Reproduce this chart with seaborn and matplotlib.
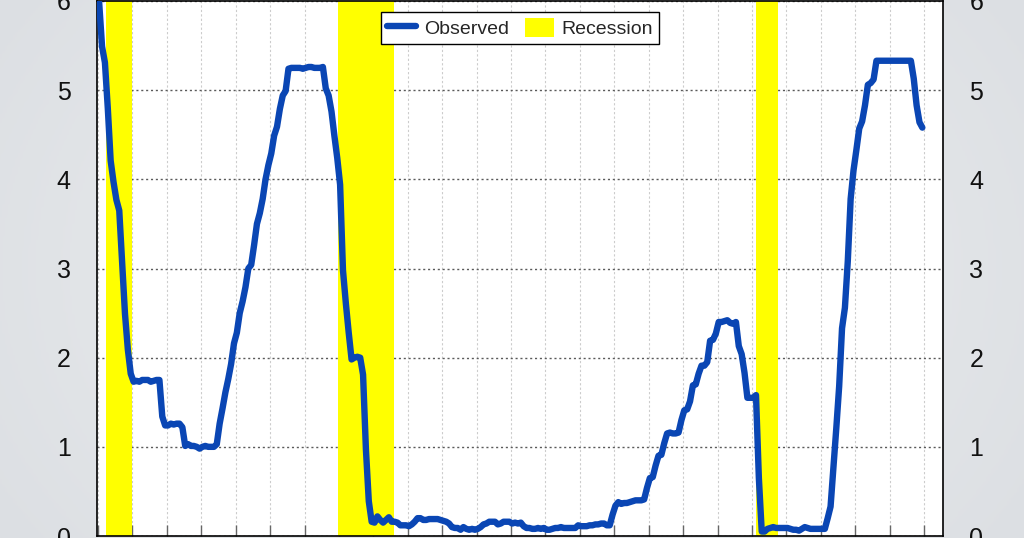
import numpy as np
import pandas as pd
import seaborn as sns
import matplotlib.pyplot as plt
from matplotlib.colors import LinearSegmentedColormap
from matplotlib.lines import Line2D
from matplotlib.patches import Patch

# monthly effective fed funds rate, Jan 2001 .. Dec 2024
start_year = 2001
fed_funds = [
    5.98, 5.49, 5.31, 4.80, 4.21, 3.97, 3.77, 3.65, 3.07, 2.49, 2.09, 1.82,
    1.73, 1.74, 1.73, 1.75, 1.75, 1.75, 1.73, 1.74, 1.75, 1.75, 1.34, 1.24,
    1.24, 1.26, 1.25, 1.26, 1.26, 1.22, 1.01, 1.03, 1.01, 1.01, 1.00, 0.98,
    1.00, 1.01, 1.00, 1.00, 1.00, 1.03, 1.26, 1.43, 1.61, 1.76, 1.93, 2.16,
    2.28, 2.50, 2.63, 2.79, 3.00, 3.04, 3.26, 3.50, 3.62, 3.78, 4.00, 4.16,
    4.29, 4.49, 4.59, 4.79, 4.94, 4.99, 5.24, 5.25, 5.25, 5.25, 5.25, 5.24,
    5.25, 5.26, 5.26, 5.25, 5.25, 5.25, 5.26, 5.02, 4.94, 4.76, 4.49, 4.24,
    3.94, 2.98, 2.61, 2.28, 1.98, 2.00, 2.01, 2.00, 1.81, 0.97, 0.39, 0.16,
    0.15, 0.22, 0.18, 0.15, 0.18, 0.21, 0.16, 0.16, 0.15, 0.12, 0.12, 0.12,
    0.11, 0.13, 0.16, 0.20, 0.20, 0.18, 0.18, 0.19, 0.19, 0.19, 0.19, 0.18,
    0.17, 0.16, 0.14, 0.10, 0.09, 0.09, 0.07, 0.10, 0.08, 0.07, 0.08, 0.07,
    0.08, 0.10, 0.13, 0.14, 0.16, 0.16, 0.16, 0.13, 0.14, 0.16, 0.16, 0.16,
    0.14, 0.15, 0.14, 0.15, 0.11, 0.09, 0.09, 0.08, 0.08, 0.09, 0.08, 0.09,
    0.07, 0.07, 0.08, 0.09, 0.09, 0.10, 0.09, 0.09, 0.09, 0.09, 0.09, 0.12,
    0.11, 0.11, 0.11, 0.12, 0.12, 0.13, 0.13, 0.14, 0.14, 0.12, 0.12, 0.24,
    0.34, 0.38, 0.36, 0.37, 0.37, 0.38, 0.39, 0.40, 0.40, 0.40, 0.41, 0.54,
    0.65, 0.66, 0.79, 0.90, 0.91, 1.04, 1.15, 1.16, 1.15, 1.15, 1.16, 1.30,
    1.41, 1.42, 1.51, 1.69, 1.70, 1.82, 1.91, 1.91, 1.95, 2.19, 2.20, 2.27,
    2.40, 2.40, 2.41, 2.42, 2.39, 2.38, 2.40, 2.13, 2.04, 1.83, 1.55, 1.55,
    1.55, 1.58, 0.65, 0.05, 0.05, 0.08, 0.09, 0.10, 0.09, 0.09, 0.09, 0.09,
    0.09, 0.08, 0.07, 0.07, 0.06, 0.08, 0.10, 0.09, 0.08, 0.08, 0.08, 0.08,
    0.08, 0.08, 0.20, 0.33, 0.77, 1.21, 1.68, 2.33, 2.56, 3.08, 3.78, 4.10,
    4.33, 4.57, 4.65, 4.83, 5.06, 5.08, 5.12, 5.33, 5.33, 5.33, 5.33, 5.33,
    5.33, 5.33, 5.33, 5.33, 5.33, 5.33, 5.33, 5.33, 5.13, 4.83, 4.64, 4.58,
]
recession_start = [2001.24, 2007.96, 2020.13]
recession_end = [2002.0, 2009.59, 2020.77]
year_ticks = list(range(2001, 2026))
y_ticks = [0, 1, 2, 3, 4, 5, 6]

blue = "#0a46b4"
yellow = "#ffff00"

df = pd.DataFrame({
    "date": start_year + (np.arange(len(fed_funds)) + 0.4) / 12,
    "rate": fed_funds,
})

sns.set_theme(style="white")
plt.rcParams["font.family"] = ["Liberation Sans", "DejaVu Sans"]

fig = plt.figure(figsize=(10.24, 5.38), dpi=100)

# soft grey backdrop
bg = fig.add_axes([0, 0, 1, 1], zorder=-10)
yy, xx = np.mgrid[0:1:200j, 0:1:400j]
grad = np.sqrt(((xx - 0.5) / 0.6) ** 2 + ((yy - 0.5) / 0.9) ** 2)
bg_cmap = LinearSegmentedColormap.from_list("bg", ["#eff1f2", "#dcdfe3"])
bg.imshow(grad, cmap=bg_cmap, aspect="auto", extent=[0, 1, 0, 1], vmin=0, vmax=1)
bg.axis("off")

ax = fig.add_axes([97 / 1024, 2 / 538, 846 / 1024, 535 / 538])
ax.set_facecolor("white")

for s, e in zip(recession_start, recession_end):
    ax.axvspan(s, e, color=yellow, lw=0, zorder=1)

sns.lineplot(data=df, x="date", y="rate", ax=ax, color=blue, lw=4.6,
             zorder=3, legend=False, solid_capstyle="round",
             solid_joinstyle="round")

ax.set_xlim(2000.97, 2025.55)
ax.set_ylim(0, 6)
ax.set_xticks(year_ticks)
ax.set_yticks(y_ticks)
ax.set_axisbelow(True)
ax.xaxis.grid(True, color="#cccccc", ls=(0, (2, 2)), lw=0.8)
ax.yaxis.grid(True, color="#5a5a5a", ls=(0, (1.5, 2)), lw=1)
ax.set_xlabel("")
ax.set_ylabel("")

ax.tick_params(axis="x", direction="in", length=8, width=1, color="#666666",
               bottom=True, labelbottom=False)
ax.tick_params(axis="y", left=False, right=False, length=0,
               labelleft=True, labelright=True, labelsize=18, pad=19,
               labelcolor="#111111")

for sp in ax.spines.values():
    sp.set_visible(True)
    sp.set_color("black")
    sp.set_linewidth(1.2)

handles = [
    Line2D([0], [0], color=blue, lw=4.6, solid_capstyle="round"),
    Patch(facecolor=yellow, edgecolor="none"),
]
leg = ax.legend(handles, ["Observed", "Recession"], loc="upper center",
                bbox_to_anchor=(0.5, 1 - 11 / 535), ncol=2, fontsize=14,
                frameon=True, fancybox=False, edgecolor="black", framealpha=1,
                handlelength=1.5, handleheight=1.1, columnspacing=0.8,
                handletextpad=0.4, borderpad=0.3, borderaxespad=0)
leg.get_frame().set_linewidth(1)
leg.set_zorder(5)

fig.savefig("out.png", dpi=100)
